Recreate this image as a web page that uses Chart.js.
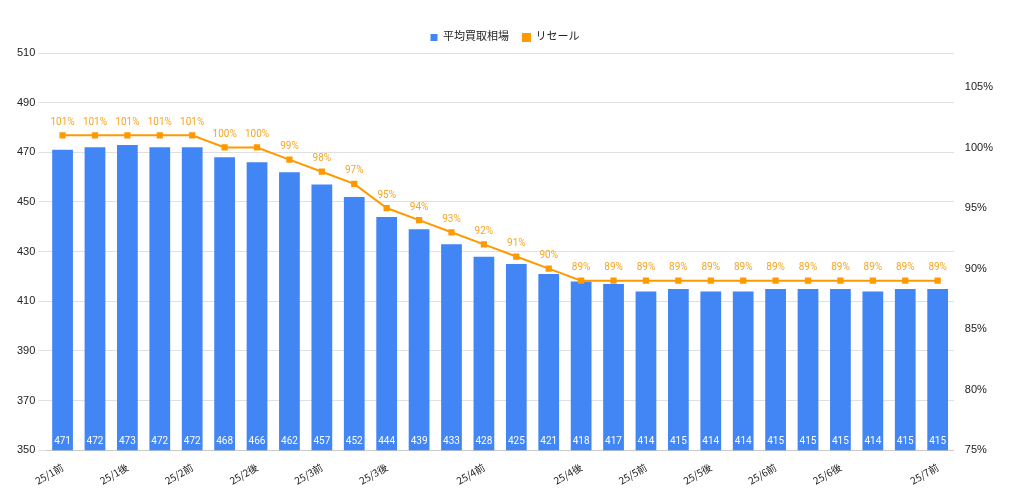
<!DOCTYPE html>
<html><head><meta charset="utf-8">
<script src="https://cdn.jsdelivr.net/npm/chart.js@4"></script>
<style>html,body{margin:0;background:#fff}#wrap{width:1024px;height:496px}</style>
</head><body><div id="wrap"><canvas id="c"></canvas></div>
<script>
const labels = ["25/1前","","25/1後","","25/2前","","25/2後","","25/3前","","25/3後","","","25/4前","","","25/4後","","25/5前","","25/5後","","25/6前","","25/6後","","","25/7前"];
const buyPrice = [471,472,473,472,472,468,466,462,457,452,444,439,433,428,425,421,418,417,414,415,414,414,415,415,415,414,415,415];
const resale = [101,101,101,101,101,100,100,99,98,97,95,94,93,92,91,90,89,89,89,89,89,89,89,89,89,89,89,89];
const leftTicks = [350,370,390,410,430,450,470,490,510];
const rightTicks = [75,80,85,90,95,100,105];

const labelPlugin = {
  id: "valueLabels",
  afterDatasetsDraw(chart) {
    const ctx = chart.ctx;
    ctx.save();
    ctx.font = "10px Roboto, sans-serif";
    ctx.textAlign = "center";
    ctx.textBaseline = "bottom";
    chart.getDatasetMeta(1).data.forEach((bar, i) => {
      ctx.fillStyle = "#ffffff";
      ctx.fillText(buyPrice[i], bar.x, chart.chartArea.bottom - 4);
    });
    chart.getDatasetMeta(0).data.forEach((pt, i) => {
      ctx.fillStyle = "#f5a623";
      ctx.fillText(resale[i] + "%", pt.x, pt.y - 8);
    });
    ctx.restore();
  },
};

new Chart(document.getElementById("c"), {
  data: {
    labels,
    datasets: [
      { type: "line", label: "リセール", data: resale, yAxisID: "y1", borderColor: "#ff9900", backgroundColor: "#ff9900",
        borderWidth: 2, pointStyle: "rect", pointRadius: 3, order: 0 },
      { type: "bar", label: "平均買取相場", data: buyPrice, yAxisID: "y", backgroundColor: "#4285f4",
        categoryPercentage: 0.64, barPercentage: 1, order: 1 },
    ],
  },
  options: {
    responsive: true,
    maintainAspectRatio: false,
    animation: false,
    layout: { padding: { left: 14, right: 28, top: 18, bottom: 6 } },
    plugins: {
      legend: { reverse: true, labels: { color: "#222", padding: 14, font: { size: 11, family: "Roboto, 'Noto Sans CJK JP'" }, usePointStyle: true, pointStyle: "rect", boxWidth: 7, boxHeight: 7 } },
      tooltip: { enabled: false },
    },
    scales: {
      x: { grid: { display: false }, ticks: { color: "#222", autoSkip: false, maxRotation: 30, minRotation: 30, font: { size: 10, family: "'Noto Sans CJK JP', sans-serif" } } },
      y: { position: "left", min: 350, max: 510, border: { display: false },
        afterBuildTicks: (a) => { a.ticks = leftTicks.map((v) => ({ value: v })); },
        grid: { color: "#e0e0e0" }, ticks: { color: "#222", font: { size: 11 } } },
      y1: { position: "right", min: 75, max: 107.8, border: { display: false },
        afterBuildTicks: (a) => { a.ticks = rightTicks.map((v) => ({ value: v })); },
        grid: { display: false }, ticks: { color: "#222", font: { size: 11 }, callback: (v) => v + "%" } },
    },
  },
  plugins: [labelPlugin],
});
</script></body></html>
